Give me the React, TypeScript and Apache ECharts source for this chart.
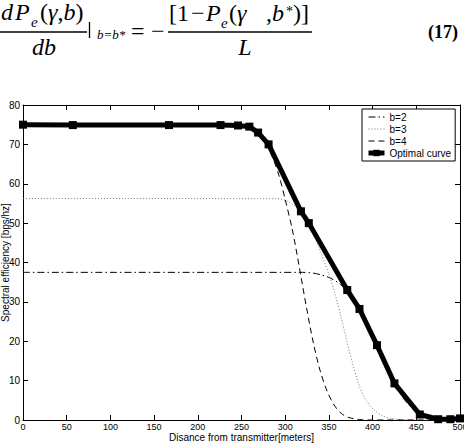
import React, { useEffect, useRef } from "react";
import * as echarts from "echarts";

// Distance from transmitter [m] and spectral efficiency [bps/hz]
const optimalDistance = [0, 57, 167, 226, 246, 259, 269, 281, 318, 327, 371, 385, 405, 425, 454, 475, 489, 500];
const optimalEfficiency = [75, 74.9, 74.9, 74.9, 74.8, 74.5, 73, 70, 53, 50, 33, 28.2, 19, 9.3, 1.4, 0.2, 0.2, 0.4];

const b2Distance = [0, 320, 332, 342, 352, 363, 372, 385, 395, 405, 415, 425, 435, 445, 455, 465, 480, 500];
const b2Efficiency = [37.5, 37.5, 37.3, 36.8, 36, 34.5, 32.3, 27.8, 23.2, 18.5, 13.8, 9.3, 5.6, 3, 1.3, 0.5, 0.1, 0];

const b3Distance = [0, 290, 300, 310, 320, 330, 340, 350, 357, 363, 370, 377, 385, 393, 402, 411, 421, 435, 450, 500];
const b3Efficiency = [56.25, 56.2, 55.8, 54.5, 52.5, 48.5, 43, 37, 32, 27, 20.5, 14.5, 8.5, 4.8, 2.5, 1.1, 0.4, 0.1, 0, 0];

const b4Distance = [0, 240, 255, 265, 275, 285, 293, 300, 308, 316, 324, 332, 340, 348, 356, 364, 372, 385, 400, 500];
const b4Efficiency = [75, 74.9, 74.6, 73.6, 71.2, 67, 62, 56, 48.5, 39, 29, 19.8, 12.5, 7.3, 3.8, 1.7, 0.7, 0.1, 0, 0];

const seriesNames = ["b=2", "b=3", "b=4", "Optimal curve"];

const pairs = (xs: number[], ys: number[]) => xs.map((x, i) => [x, ys[i]]);

const SERIF = '"Liberation Serif", "Times New Roman", serif';
const SANS = '"Liberation Sans", Arial, sans-serif';

// text element placed by its baseline
const txt = (
  x: number,
  baseline: number,
  text: string,
  size: number,
  style = "normal",
  weight = "normal",
  align = "left"
) => ({
  type: "text",
  x,
  y: baseline - 0.34 * size,
  silent: true,
  style: {
    text,
    font: `${style} ${weight} ${size}px ${SERIF}`,
    fill: "#000",
    textAlign: align,
    textVerticalAlign: "middle",
    verticalAlign: "middle",
  },
});

const richRun = (x: number, baseline: number, text: string, size: number) => ({
  type: "text",
  x,
  y: baseline - 0.34 * size,
  silent: true,
  style: {
    text,
    fill: "#000",
    textAlign: "left",
    verticalAlign: "middle",
    textVerticalAlign: "middle",
    font: `normal ${size}px ${SERIF}`,
    rich: {
      i: { fontStyle: "italic", fontSize: size, fontFamily: SERIF, fill: "#000" },
      n: { fontStyle: "normal", fontSize: size, fontFamily: SERIF, fill: "#000" },
    },
  },
});

const hline = (x1: number, x2: number, y: number, w = 1.4) => ({
  type: "line",
  silent: true,
  shape: { x1, y1: y, x2, y2: y },
  style: { stroke: "#000", lineWidth: w },
});

const equation = [
  // left-hand side: dPe(γ,b)/db |b=b*
  txt(1, 20, "d", 24, "italic"),
  txt(15, 20, "P", 24, "italic"),
  txt(31, 27, "e", 15, "italic"),
  richRun(40, 20, "{n|(}{i|γ}{n|,}{i|b}{n|)}", 24),
  hline(0, 87, 32),
  txt(44, 55, "db", 24, "italic", "normal", "center"),
  {
    type: "line",
    silent: true,
    shape: { x1: 89.5, y1: 22, x2: 89.5, y2: 38 },
    style: { stroke: "#000", lineWidth: 1.3 },
  },
  txt(97, 39, "b=b*", 13, "italic"),
  txt(131, 39, "=", 24),
  txt(151, 39, "−", 24),
  // right-hand side: [1 − Pe(γ ,b*)] / L
  txt(169, 21, "[1", 24),
  txt(191, 21, "−", 24),
  txt(206, 21, "P", 24, "italic"),
  txt(221, 28, "e", 15, "italic"),
  txt(229, 21, "(", 24),
  txt(237, 21, "γ", 24, "italic"),
  txt(266, 21, ",", 24),
  txt(272, 21, "b", 24, "italic"),
  txt(286, 16, "*", 14),
  txt(293, 21, ")]", 24),
  hline(168, 312, 32),
  txt(245, 55, "L", 24, "italic", "normal", "center"),
  txt(428, 38, "(17)", 18, "normal", "bold"),
];

const axisCommon = {
  type: "value",
  axisLine: { show: true, onZero: false, lineStyle: { color: "#000", width: 1 } },
  axisTick: { show: true, inside: true, length: 5, lineStyle: { color: "#000", width: 1 } },
  splitLine: { show: false },
};

const labelStyle = { color: "#000", fontSize: 10, fontFamily: SANS };

export default function App() {
  const ref = useRef<HTMLDivElement>(null);

  useEffect(() => {
    document.body.style.margin = "0";
    const chart = echarts.init(ref.current!, null, { renderer: "svg" });

    chart.setOption({
      animation: false,
      backgroundColor: "#fff",
      grid: { left: 23, right: 4, top: 105, bottom: 24, outerBoundsMode: "none", containLabel: false },
      graphic: equation,
      legend: {
        data: [
          { name: seriesNames[0], lineStyle: { width: 1 } },
          { name: seriesNames[1], lineStyle: { width: 1 } },
          { name: seriesNames[2], lineStyle: { width: 1 } },
          { name: seriesNames[3], lineStyle: { width: 5 } },
        ],
        orient: "vertical",
        left: 362,
        top: 109,
        padding: [3, 4, 3, 4],
        itemGap: 2,
        itemWidth: 16,
        itemHeight: 8,
        borderColor: "#000",
        borderWidth: 1,
        borderRadius: 0,
        backgroundColor: "#fff",
        textStyle: { ...labelStyle, padding: [0, 0, 0, 0] },
      },
      xAxis: [
        {
          ...axisCommon,
          min: 0,
          max: 500,
          interval: 50,
          position: "bottom",
          axisLabel: { ...labelStyle, fontSize: 9, margin: 2 },
          name: "Disance from transmitter[meters]",
          nameLocation: "middle",
          nameGap: 12,
          nameMoveOverlap: false,
          nameTextStyle: labelStyle,
        },
        {
          ...axisCommon,
          min: 0,
          max: 500,
          interval: 50,
          position: "top",
          axisLabel: { show: false },
        },
      ],
      yAxis: [
        {
          ...axisCommon,
          min: 0,
          max: 80,
          interval: 10,
          position: "left",
          axisLabel: { ...labelStyle, margin: 3 },
          name: "Spectral efficiency [bps/hz]",
          nameLocation: "middle",
          nameGap: 13,
          nameMoveOverlap: false,
          nameTextStyle: labelStyle,
        },
        {
          ...axisCommon,
          min: 0,
          max: 80,
          interval: 10,
          position: "right",
          axisLabel: { show: false },
        },
      ],
      series: [
        {
          name: seriesNames[0],
          type: "line",
          data: pairs(b2Distance, b2Efficiency),
          smooth: 0.3,
          symbol: "none",
          lineStyle: { color: "#000", width: 1, type: [7, 3, 1.5, 3] },
          itemStyle: { color: "rgba(0,0,0,0)" },
        },
        {
          name: seriesNames[1],
          type: "line",
          data: pairs(b3Distance, b3Efficiency),
          smooth: 0.3,
          symbol: "none",
          lineStyle: { color: "#777", width: 1, type: [1, 2] },
          itemStyle: { color: "rgba(0,0,0,0)" },
        },
        {
          name: seriesNames[2],
          type: "line",
          data: pairs(b4Distance, b4Efficiency),
          smooth: 0.3,
          symbol: "none",
          lineStyle: { color: "#000", width: 1, type: [6, 4] },
          itemStyle: { color: "rgba(0,0,0,0)" },
        },
        {
          name: seriesNames[3],
          type: "line",
          data: pairs(optimalDistance, optimalEfficiency),
          symbol: "rect",
          symbolSize: 8,
          clip: false,
          lineStyle: { color: "#000", width: 5 },
          itemStyle: { color: "#000" },
        },
      ],
    });

    return () => chart.dispose();
  }, []);

  return <div ref={ref} style={{ width: 464, height: 444 }} />;
}
